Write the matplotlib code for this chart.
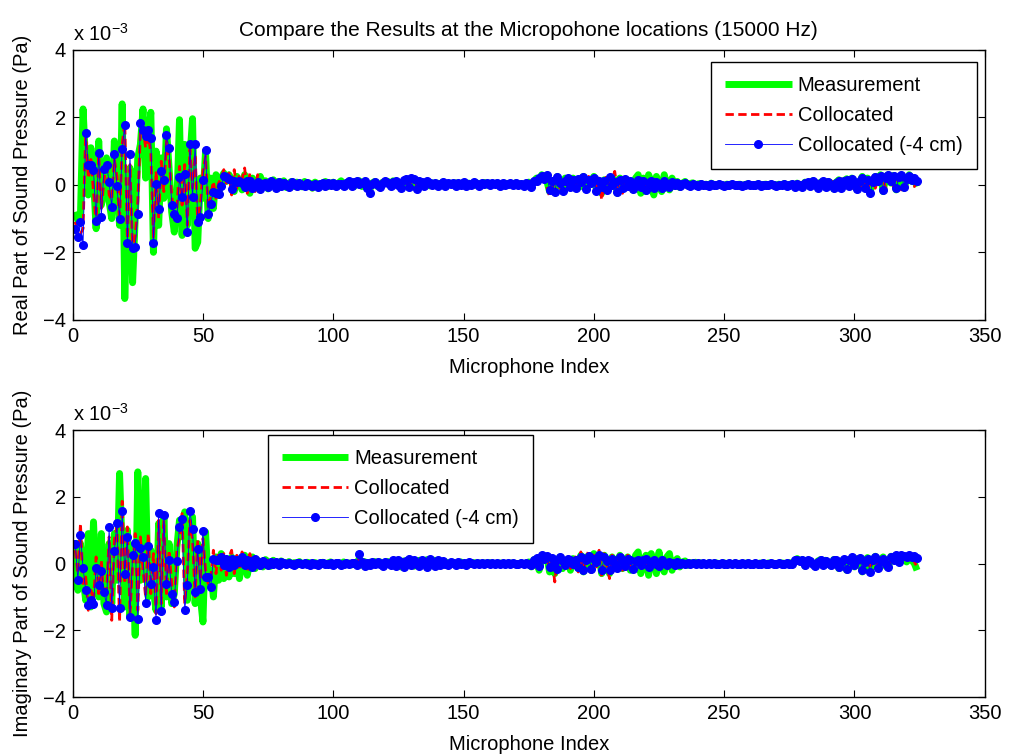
import matplotlib
matplotlib.use("Agg")
import matplotlib.pyplot as plt
import numpy as np

plt.rcParams['font.family'] = ['Liberation Sans', 'DejaVu Sans']
plt.rcParams['mathtext.fontset'] = 'custom'
plt.rcParams['mathtext.rm'] = 'Liberation Sans'

# values in units of 1e-3 Pa, microphone index 1..324
# top panel: real part
real_meas = [
    -0.80, -1.05, -0.90, 2.25, 0.60, -0.30, 1.10, 0.20, -1.30, 1.30, -0.60, -0.20,
    0.80, -0.50, -1.00, 1.30, 0.10, -1.20, 2.40, -3.37, -0.50, 0.50, -2.90, -1.00,
    0.80, 1.20, 2.25, 0.20, 1.40, 2.15, -2.00, 1.00, -1.20, 0.80, -0.40, 1.66,
    0.50, -0.80, -1.40, -0.50, 1.93, -1.50, 1.20, -1.20, 0.80, 1.96, -1.88, -1.70,
    0.20, -0.40, 1.00, -1.00, 0.20, -0.70, 0.30, -0.30, 0.20, 0.35, 0.10, 0.30,
    0.15, -0.20, 0.25, 0.05, -0.15, 0.30, 0.10, -0.25, 0.20, 0.05, -0.10, 0.25,
    0.00, 0.12, -0.12, 0.08, 0.15, -0.05, 0.10, 0.00, 0.12, -0.08, 0.05, 0.10,
    -0.05, 0.08, 0.02, -0.06, 0.10, 0.00, 0.05, -0.10, 0.08, 0.03, -0.04, 0.06,
    0.10, -0.05, 0.04, 0.08, -0.06, 0.05, 0.12, -0.02, 0.06, 0.00, 0.10, -0.05,
    0.08, 0.12, -0.05, 0.05, 0.00, -0.15, 0.06, 0.10, -0.05, 0.02, 0.08, 0.05,
    0.10, -0.05, 0.12, 0.02, 0.08, -0.08, 0.10, 0.15, 0.00, 0.12, 0.05, -0.06,
    0.12, 0.04, 0.00, 0.08, -0.03, 0.06, 0.02, 0.05, -0.02, 0.08, 0.03, 0.00,
    0.05, 0.02, 0.06, -0.03, 0.04, 0.07, 0.00, 0.05, 0.03, -0.02, 0.06, 0.02,
    0.03, 0.07, -0.01, 0.05, 0.02, 0.04, 0.06, 0.00, 0.03, 0.05, -0.02, 0.04,
    0.02, 0.06, 0.01, 0.04, 0.00, 0.03, 0.08, -0.05, 0.10, 0.20, 0.15, 0.30,
    0.20, 0.10, -0.20, 0.05, -0.15, 0.25, 0.00, -0.10, 0.20, 0.10, -0.08, 0.20,
    0.05, 0.15, -0.05, 0.25, -0.10, 0.10, 0.12, 0.25, -0.15, 0.05, -0.25, 0.15,
    -0.10, 0.20, 0.05, 0.15, -0.25, 0.20, -0.05, 0.15, 0.05, 0.12, -0.15, 0.20,
    0.30, -0.25, 0.20, -0.20, 0.30, 0.10, -0.30, 0.25, 0.05, -0.20, 0.30, 0.00,
    -0.15, 0.20, -0.05, 0.10, -0.08, 0.05, 0.10, -0.03, 0.04, 0.06, -0.02, 0.03,
    0.04, 0.00, 0.02, -0.03, 0.05, 0.01, -0.02, 0.03, 0.00, -0.03, 0.02, 0.01,
    0.03, -0.02, 0.01, 0.02, -0.03, 0.01, 0.03, 0.00, -0.02, 0.01, 0.03, -0.01,
    0.01, 0.02, -0.02, 0.03, 0.00, -0.01, 0.02, -0.02, 0.04, -0.02, 0.01, 0.03,
    -0.04, 0.05, -0.02, -0.05, 0.08, 0.05, -0.06, 0.12, 0.02, -0.10, 0.08, 0.10,
    -0.08, 0.10, 0.05, -0.12, 0.08, 0.15, -0.10, 0.12, 0.18, -0.05, 0.20, 0.10,
    -0.15, 0.08, 0.25, -0.05, 0.20, -0.20, 0.05, 0.25, 0.10, 0.30, -0.20, 0.25,
    0.30, 0.05, 0.28, -0.15, 0.20, 0.25, -0.10, 0.15, 0.30, 0.10, 0.15, -0.05,
]
real_coll = [
    -1.10, -1.40, -1.45, -1.30, 1.60, 0.20, 0.75, -0.20, -1.15, 0.90, -0.70, 0.10,
    0.70, -0.30, -0.45, 0.75, 0.25, -1.10, 1.20, 1.85, -1.60, 0.60, -1.95, -1.50,
    -0.50, 1.55, 1.70, 1.10, 1.45, 0.95, -1.60, 0.40, -1.00, 0.70, -0.20, 1.30,
    0.80, -0.30, -1.10, -0.70, 0.55, -0.60, 0.60, -1.20, 1.05, -0.10, 0.90, -1.15,
    -0.60, 0.40, 0.85, -0.70, -0.30, 0.10, -0.40, 0.05, 0.20, 0.45, 0.05, 0.35,
    -0.30, 0.45, -0.10, 0.30, 0.15, 0.50, -0.25, 0.35, 0.05, -0.20, 0.30, 0.10,
    -0.15, 0.20, 0.10, -0.10, 0.15, 0.05, -0.05, 0.12, -0.08, 0.10, 0.02, -0.10,
    0.08, -0.05, 0.10, 0.00, -0.08, 0.06, 0.12, -0.15, 0.05, 0.02, -0.06, 0.08,
    0.00, 0.10, -0.05, 0.06, 0.02, -0.08, 0.10, 0.04, -0.03, 0.12, -0.10, 0.05,
    0.15, -0.05, 0.10, 0.02, -0.12, -0.20, 0.10, 0.00, 0.05, -0.10, 0.08, 0.15,
    -0.05, 0.10, 0.05, 0.15, -0.08, 0.00, 0.20, 0.10, -0.10, 0.15, 0.22, -0.05,
    0.05, 0.12, -0.08, 0.10, 0.00, 0.05, 0.08, -0.06, 0.06, 0.02, 0.00, 0.08,
    -0.03, 0.05, 0.04, 0.00, 0.06, 0.02, -0.05, 0.08, 0.02, 0.04, -0.02, 0.05,
    0.00, 0.06, 0.02, 0.04, 0.00, 0.07, 0.01, 0.03, -0.04, 0.05, 0.02, 0.00,
    0.05, 0.02, 0.03, -0.03, 0.06, 0.00, -0.08, 0.05, 0.15, 0.05, 0.25, 0.10,
    0.30, -0.05, -0.35, 0.15, -0.25, 0.20, -0.10, 0.05, 0.18, -0.12, 0.10, 0.25,
    -0.15, 0.10, 0.20, 0.05, -0.20, 0.25, 0.00, 0.15, -0.10, 0.20, -0.45, 0.05,
    0.30, -0.10, 0.15, 0.40, -0.15, 0.10, -0.25, 0.20, 0.05, -0.10, 0.15, -0.05,
    0.10, 0.00, -0.15, 0.12, 0.08, -0.08, 0.15, 0.00, -0.12, 0.08, 0.05, -0.05,
    0.06, -0.02, 0.04, 0.00, 0.03, -0.04, 0.02, 0.05, -0.03, 0.00, 0.04, -0.02,
    0.00, 0.03, -0.02, 0.01, 0.02, -0.03, 0.01, 0.00, 0.03, -0.01, 0.00, 0.02,
    -0.02, 0.01, 0.02, -0.01, 0.00, 0.03, -0.02, 0.00, 0.01, 0.02, -0.03, 0.01,
    0.02, -0.01, 0.03, 0.00, -0.02, 0.02, 0.00, 0.04, -0.04, 0.02, 0.03, -0.05,
    0.05, -0.08, 0.08, 0.02, -0.10, 0.10, 0.00, -0.06, 0.12, 0.05, -0.12, 0.15,
    0.02, -0.08, 0.12, 0.05, -0.15, 0.10, 0.18, -0.05, 0.08, 0.20, -0.10, 0.12,
    0.05, -0.15, 0.18, 0.10, -0.20, 0.12, 0.25, -0.10, 0.15, 0.05, 0.20, -0.12,
    0.15, 0.25, -0.08, 0.20, 0.10, -0.15, 0.22, 0.05, 0.15, 0.20, -0.05, 0.10,
]
real_coll4 = [
    -1.30, -1.55, -1.10, -1.79, 1.53, 0.60, 0.60, 0.45, -1.07, 0.95, -0.95, 0.46,
    0.60, 0.07, -0.66, 0.90, -0.03, -1.00, 1.05, 1.78, -1.73, 0.90, -1.87, -1.85,
    -0.85, 1.82, 1.63, 1.46, 1.63, 1.38, -1.73, 0.03, -0.71, 0.42, 0.13, 1.48,
    1.10, -0.60, -0.85, -0.98, 0.22, -0.37, 0.32, -1.40, 1.20, -0.37, 1.20, -1.10,
    -0.95, 0.13, 1.04, -0.85, -0.57, -0.20, -0.25, -0.27, -0.03, 0.26, 0.22, 0.17,
    -0.13, 0.10, 0.08, 0.12, 0.05, -0.05, 0.10, 0.12, -0.10, 0.00, 0.08, -0.12,
    0.03, 0.06, -0.05, 0.10, 0.04, -0.08, 0.09, -0.03, 0.05, 0.00, -0.06, 0.07,
    0.02, -0.04, 0.05, 0.01, -0.03, 0.04, 0.00, -0.02, 0.03, -0.05, 0.02, 0.04,
    -0.03, 0.05, 0.01, 0.06, -0.04, 0.02, 0.03, -0.02, 0.05, 0.10, -0.03, 0.08,
    0.12, 0.02, 0.05, 0.10, -0.08, -0.25, 0.03, 0.07, 0.00, -0.06, 0.04, 0.10,
    0.05, -0.02, 0.08, 0.12, 0.00, -0.10, 0.15, 0.18, -0.05, 0.20, 0.17, -0.12,
    0.10, 0.08, -0.03, 0.12, 0.05, 0.00, 0.06, -0.04, 0.03, 0.07, -0.02, 0.04,
    0.02, 0.06, -0.03, 0.05, 0.01, 0.08, -0.02, 0.03, 0.00, 0.07, 0.02, -0.04,
    0.04, 0.03, 0.06, 0.00, 0.05, 0.02, 0.04, -0.03, 0.05, 0.00, 0.03, 0.06,
    0.01, 0.04, 0.00, 0.03, -0.02, 0.05, 0.02, -0.06, 0.10, 0.12, 0.20, 0.25,
    0.18, 0.28, -0.15, 0.10, -0.20, 0.22, 0.05, -0.18, 0.12, 0.20, -0.05, 0.15,
    -0.10, 0.18, 0.08, 0.22, -0.12, 0.15, 0.05, 0.20, -0.18, 0.10, -0.05, 0.12,
    -0.15, 0.22, 0.00, 0.08, -0.20, 0.15, -0.08, 0.18, -0.02, 0.10, -0.12, 0.06,
    0.14, -0.06, 0.10, -0.15, 0.05, 0.12, -0.10, 0.08, 0.02, -0.08, 0.10, 0.03,
    -0.05, 0.07, 0.00, 0.04, -0.03, 0.02, 0.05, 0.00, -0.02, 0.03, 0.01, -0.03,
    0.02, 0.00, 0.01, -0.02, 0.03, 0.00, -0.01, 0.02, 0.00, -0.02, 0.01, 0.00,
    0.02, -0.01, 0.00, 0.01, -0.02, 0.00, 0.02, 0.01, -0.01, 0.00, 0.02, -0.02,
    0.00, 0.01, -0.01, 0.02, 0.00, -0.02, 0.01, 0.00, 0.03, -0.03, 0.00, 0.02,
    -0.05, 0.03, 0.00, -0.06, 0.05, 0.08, -0.03, 0.10, 0.04, -0.08, 0.06, 0.12,
    -0.05, 0.08, 0.00, -0.10, 0.05, 0.12, -0.08, 0.10, 0.15, -0.04, 0.18, 0.05,
    -0.12, 0.10, 0.20, -0.08, 0.15, -0.25, 0.08, 0.22, 0.12, 0.25, -0.15, 0.20,
    0.28, 0.10, 0.25, -0.10, 0.22, 0.30, -0.05, 0.18, 0.25, 0.15, 0.20, 0.10,
]

# bottom panel: imaginary part
imag_meas = [
    0.70, -0.80, 0.60, -0.40, -1.10, 0.90, -1.30, 1.25, -0.60, -1.00, 0.90, -1.20,
    -1.45, 0.60, -1.20, 0.90, -0.50, 2.70, 0.40, -1.30, 1.00, -1.60, 0.50, -2.15,
    2.75, -0.50, 0.30, 2.55, -1.00, 0.40, -0.80, -1.40, 1.20, -1.30, 1.40, -1.00,
    0.60, -1.20, -0.90, 0.50, 1.30, 0.80, 1.55, -1.10, 1.20, 1.40, -1.20, 0.60,
    -1.00, -1.75, 0.95, -0.60, -0.20, -1.00, 0.20, -0.50, 0.30, -0.45, 0.10, -0.40,
    0.20, -0.30, 0.15, -0.45, 0.10, 0.25, -0.35, 0.05, 0.20, -0.15, 0.10, 0.00,
    -0.10, 0.12, 0.05, -0.08, 0.10, 0.00, -0.05, 0.08, 0.02, -0.04, 0.06, -0.02,
    0.03, -0.05, 0.06, 0.00, -0.03, 0.04, 0.02, -0.04, 0.03, 0.00, -0.02, 0.04,
    -0.03, 0.02, 0.05, -0.04, 0.00, 0.03, -0.02, 0.05, -0.01, 0.02, -0.04, 0.03,
    0.00, 0.15, -0.05, 0.06, -0.08, 0.04, 0.00, 0.06, -0.03, 0.05, 0.00, -0.05,
    0.06, 0.00, -0.06, 0.10, 0.02, -0.10, 0.08, 0.00, 0.12, 0.05, -0.08, 0.06,
    0.10, -0.05, 0.02, 0.12, -0.08, 0.05, 0.10, -0.02, 0.04, -0.06, 0.05, 0.02,
    -0.02, 0.04, 0.00, -0.03, 0.05, -0.01, 0.02, 0.00, -0.02, 0.03, 0.00, 0.02,
    -0.01, 0.02, 0.00, 0.03, -0.02, 0.01, 0.00, 0.02, -0.01, 0.01, 0.00, 0.02,
    0.00, 0.01, -0.02, 0.02, 0.00, -0.03, 0.05, -0.10, 0.12, 0.05, -0.20, 0.15,
    0.10, 0.20, -0.25, 0.15, -0.30, 0.10, 0.20, -0.15, 0.05, 0.12, -0.20, 0.15,
    0.05, -0.15, 0.25, -0.25, 0.20, 0.15, -0.20, 0.30, 0.00, 0.20, -0.30, 0.25,
    0.00, -0.30, 0.20, -0.10, 0.05, 0.25, -0.15, 0.10, 0.20, -0.20, -0.10, 0.25,
    0.35, -0.30, 0.10, 0.25, -0.35, 0.30, 0.05, -0.30, 0.35, -0.10, -0.25, 0.20,
    0.30, -0.20, 0.05, 0.15, -0.10, 0.05, 0.08, -0.05, 0.03, 0.00, 0.04, -0.02,
    0.02, 0.00, -0.02, 0.02, 0.01, -0.01, 0.02, 0.00, -0.01, 0.02, 0.00, 0.01,
    -0.01, 0.02, 0.00, 0.01, -0.02, 0.01, 0.02, 0.00, -0.01, 0.01, 0.00, 0.02,
    0.00, -0.01, 0.02, 0.00, 0.01, -0.02, 0.00, 0.02, 0.01, -0.02, 0.03, 0.00,
    0.08, 0.15, 0.05, 0.12, -0.08, 0.10, 0.05, -0.03, -0.10, 0.08, 0.12, -0.05,
    0.10, 0.00, -0.08, 0.12, 0.10, -0.15, 0.08, 0.12, -0.20, 0.12, 0.15, -0.10,
    0.15, 0.10, -0.25, 0.08, 0.18, -0.20, 0.10, 0.22, -0.15, 0.12, 0.20, -0.08,
    -0.12, 0.22, 0.10, 0.20, 0.05, 0.15, 0.18, 0.05, 0.25, 0.10, 0.00, -0.20,
]
imag_coll = [
    0.40, -0.30, 1.20, -0.60, -0.40, -1.40, -0.80, -1.10, 0.20, -0.90, 0.10, -1.00,
    -0.90, 0.80, -1.70, 0.70, 1.10, -1.75, 1.87, -0.60, 1.10, -1.50, -0.10, 0.90,
    -1.40, 0.80, -0.20, -1.00, 0.90, -0.90, 0.30, -1.50, 1.30, -1.20, 1.30, -0.90,
    0.40, -0.60, -1.30, 0.40, 0.80, 1.50, -1.20, -0.30, 1.30, 0.70, -1.00, 0.70,
    -0.50, 0.75, -0.20, -0.60, -0.40, 0.40, -0.30, 0.35, -0.20, 0.30, -0.35, 0.20,
    0.40, -0.30, 0.25, -0.20, 0.35, 0.10, -0.25, 0.30, -0.10, 0.20, 0.05, -0.15,
    0.15, -0.05, 0.10, 0.00, -0.08, 0.12, 0.05, -0.05, 0.08, -0.03, 0.06, 0.00,
    0.05, -0.06, 0.04, 0.02, -0.04, 0.06, 0.00, -0.03, 0.05, -0.02, 0.03, 0.01,
    -0.04, 0.05, 0.00, -0.03, 0.06, 0.00, -0.05, 0.03, 0.04, -0.04, 0.02, 0.05,
    -0.06, 0.20, 0.08, -0.12, 0.05, -0.10, 0.08, 0.00, 0.10, -0.05, -0.10, 0.08,
    0.00, -0.08, 0.12, -0.12, 0.15, 0.00, -0.15, 0.12, 0.20, -0.10, 0.15, -0.05,
    -0.12, 0.15, 0.02, -0.15, 0.18, -0.02, -0.10, 0.12, -0.06, 0.10, -0.03, -0.08,
    0.08, 0.00, -0.06, 0.06, -0.02, 0.04, -0.05, 0.05, 0.00, -0.03, 0.03, -0.01,
    0.02, -0.03, 0.03, -0.01, 0.04, -0.02, 0.02, 0.00, 0.03, -0.03, 0.02, -0.01,
    0.03, -0.02, 0.01, 0.02, -0.03, 0.03, -0.02, -0.08, 0.15, 0.10, -0.15, 0.20,
    0.05, 0.25, -0.20, 0.10, -0.55, 0.15, 0.25, -0.10, 0.00, 0.20, -0.15, 0.10,
    0.20, -0.25, 0.35, -0.30, 0.15, 0.40, -0.35, 0.25, -0.10, 0.40, -0.40, 0.30,
    -0.05, -0.45, 0.25, -0.15, 0.10, 0.35, -0.20, 0.05, 0.25, -0.10, -0.25, 0.15,
    0.05, -0.15, 0.20, 0.05, -0.20, 0.10, 0.15, -0.10, 0.00, 0.12, -0.08, 0.02,
    0.08, -0.03, 0.00, 0.05, -0.04, 0.02, 0.00, 0.03, -0.02, 0.01, 0.00, 0.02,
    -0.01, 0.02, 0.00, -0.01, 0.01, 0.00, 0.01, -0.01, 0.02, 0.00, -0.01, 0.01,
    0.00, -0.01, 0.01, 0.00, 0.02, -0.01, 0.00, 0.01, -0.01, 0.00, 0.01, 0.00,
    -0.01, 0.01, 0.00, 0.02, -0.01, 0.00, 0.01, -0.01, 0.00, 0.03, -0.02, 0.00,
    0.12, 0.05, 0.10, 0.00, -0.10, 0.15, 0.02, -0.05, -0.15, 0.10, 0.05, -0.08,
    0.12, -0.05, -0.10, 0.15, 0.05, -0.20, 0.12, 0.08, -0.25, 0.15, 0.10, -0.12,
    0.20, 0.05, -0.30, 0.12, 0.20, -0.15, 0.05, 0.25, -0.20, 0.15, 0.10, -0.05,
    -0.15, 0.25, 0.05, 0.20, 0.10, 0.15, 0.25, 0.10, 0.20, 0.15, 0.05, -0.10,
]
imag_coll4 = [
    0.60, -0.50, 0.85, -0.13, -0.80, -1.23, -1.10, -1.20, -0.13, -0.65, -0.23, -0.85,
    -1.23, 1.10, -1.33, 0.37, 1.23, -1.33, 1.57, -0.30, 0.80, -1.60, 0.27, 0.63,
    -1.65, 0.47, 0.20, -1.17, 0.53, -0.60, -0.10, -1.70, 1.53, -1.43, 1.47, -0.60,
    0.10, -0.90, -1.15, 0.07, 1.10, 1.35, -1.40, -0.65, 1.57, 1.05, -0.85, 0.43,
    -0.75, 0.97, -0.40, -0.40, -0.70, 0.15, 0.12, 0.10, 0.20, -0.03, 0.13, -0.10,
    0.15, -0.05, 0.10, 0.05, 0.20, -0.05, 0.12, 0.08, -0.10, 0.15, 0.05, -0.03,
    0.08, 0.02, -0.05, 0.06, 0.00, 0.04, -0.03, 0.05, 0.02, -0.02, 0.03, 0.00,
    -0.04, 0.02, 0.01, -0.02, 0.03, 0.00, -0.03, 0.02, 0.00, -0.05, 0.01, 0.02,
    -0.02, 0.00, 0.03, -0.03, 0.01, 0.02, -0.04, 0.00, 0.02, -0.02, 0.03, 0.01,
    -0.03, 0.28, 0.05, -0.08, 0.02, -0.05, 0.04, -0.02, 0.06, 0.00, -0.06, 0.05,
    0.02, -0.03, 0.10, -0.08, 0.12, 0.05, -0.10, 0.08, 0.15, -0.05, 0.10, 0.00,
    -0.08, 0.12, 0.06, -0.10, 0.15, 0.02, -0.06, 0.10, -0.03, 0.08, 0.00, -0.05,
    0.06, 0.02, -0.04, 0.05, 0.00, 0.03, -0.03, 0.04, 0.01, -0.02, 0.02, 0.00,
    0.01, -0.02, 0.02, 0.00, 0.03, -0.01, 0.01, 0.00, 0.02, -0.02, 0.01, 0.00,
    0.02, -0.01, 0.00, 0.01, -0.02, 0.02, 0.00, -0.05, 0.10, 0.18, -0.08, 0.25,
    0.15, 0.22, -0.10, 0.18, 0.05, -0.15, 0.20, 0.08, -0.05, 0.15, 0.10, 0.00,
    0.12, -0.10, 0.20, -0.20, 0.10, 0.22, -0.15, 0.15, 0.05, 0.25, -0.18, 0.20,
    0.08, -0.20, 0.15, 0.00, -0.12, 0.20, 0.05, -0.08, 0.15, 0.10, -0.15, 0.08,
    0.12, -0.05, 0.10, 0.15, -0.10, 0.05, 0.12, 0.00, -0.08, 0.10, 0.02, -0.05,
    0.05, 0.02, -0.03, 0.04, 0.00, 0.03, -0.02, 0.02, 0.00, 0.01, -0.01, 0.02,
    0.00, 0.01, -0.01, 0.01, 0.00, 0.01, -0.01, 0.00, 0.01, 0.00, -0.01, 0.01,
    0.00, 0.01, 0.00, -0.01, 0.01, 0.00, 0.01, -0.01, 0.00, 0.01, 0.00, 0.00,
    0.01, -0.01, 0.00, 0.01, 0.00, -0.01, 0.01, 0.00, 0.00, 0.02, 0.00, -0.01,
    0.10, 0.12, 0.08, 0.10, -0.05, 0.12, 0.08, 0.00, -0.08, 0.05, 0.10, -0.03,
    0.08, 0.02, -0.05, 0.10, 0.12, -0.10, 0.05, 0.15, -0.15, 0.10, 0.20, -0.05,
    0.12, 0.18, -0.20, 0.05, 0.15, -0.25, 0.10, 0.20, -0.12, 0.08, 0.15, 0.00,
    -0.10, 0.20, 0.12, 0.25, 0.05, 0.25, 0.22, 0.20, 0.25, 0.20, 0.22, 0.18,
]

series_labels = ['Measurement', 'Collocated', 'Collocated (-4 cm)']
xticks = [0, 50, 100, 150, 200, 250, 300, 350]
yticks = [-4, -2, 0, 2, 4]

FS = 14.5

fig = plt.figure(figsize=(10.09, 7.56), dpi=100)
ax1 = fig.add_axes([0.072, 0.577, 0.904, 0.357])
ax2 = fig.add_axes([0.072, 0.078, 0.904, 0.353])


def draw(ax, meas, coll, coll4, ylabel, legend_loc, legend_anchor):
    ax.plot(np.arange(1, len(meas) + 1), meas, color=(0, 1, 0), lw=5,
            solid_capstyle='butt', solid_joinstyle='round', label=series_labels[0])
    ax.plot(np.arange(1, len(coll) + 1), coll, color='r', lw=2, ls='--',
            dashes=(3, 1.6), label=series_labels[1])
    ax.plot(np.arange(1, len(coll4) + 1), coll4, color='b', lw=0.6, ls='-',
            marker='o', ms=5.5, mfc='b', mec='b', label=series_labels[2])
    ax.set_xlim(0, 350)
    ax.set_ylim(-4, 4)
    ax.set_xticks(xticks)
    ax.set_yticks(yticks)
    ax.tick_params(direction='in', top=True, right=True, length=5,
                   labelsize=FS, pad=5)
    for s in ax.spines.values():
        s.set_linewidth(1.0)
    ax.set_xlabel('Microphone Index', fontsize=FS, labelpad=9)
    ax.set_ylabel(ylabel, fontsize=FS, labelpad=8)
    ax.text(0, 1.02, r'x 10$^{-3}$', transform=ax.transAxes, fontsize=FS,
            ha='left', va='bottom')
    leg = ax.legend(loc=legend_loc, bbox_to_anchor=legend_anchor, fontsize=FS,
                    fancybox=False, framealpha=1, edgecolor='k', handlelength=3.3,
                    labelspacing=0.55, borderpad=0.7, handletextpad=0.3,
                    borderaxespad=0)
    leg.get_frame().set_linewidth(1.0)


draw(ax1, real_meas, real_coll, real_coll4, 'Real Part of Sound Pressure (Pa)',
     'upper right', (0.991, 0.956))
draw(ax2, imag_meas, imag_coll, imag_coll4, 'Imaginary Part of Sound Pressure (Pa)',
     'upper left', (0.214, 0.981))
ax1.set_title('Compare the Results at the Micropohone locations (15000 Hz)',
              fontsize=15, pad=10)

fig.savefig('out.png', dpi=100)
